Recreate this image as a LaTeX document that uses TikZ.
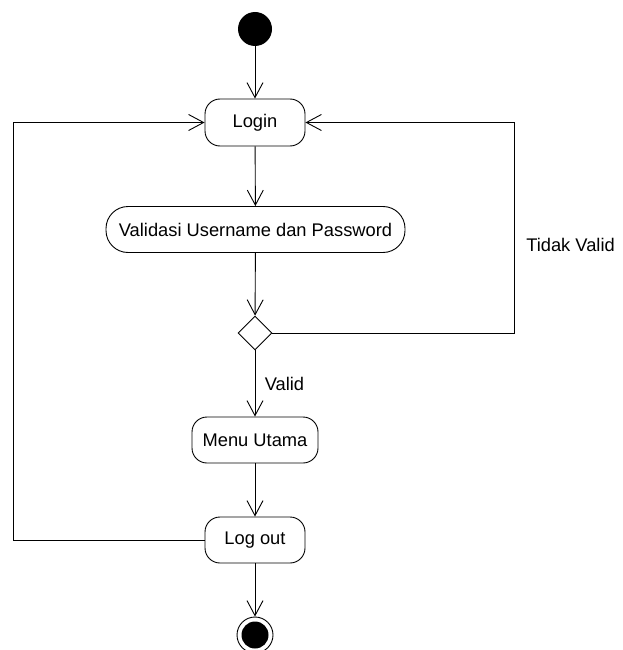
\documentclass[tikz,border=0pt]{standalone}
\usepackage{fontspec}
\setmainfont{Liberation Sans}
\usetikzlibrary{arrows.meta,shapes.geometric}
\begin{document}
\begin{tikzpicture}[x=1pt,y=-1pt,
  every node/.style={font=\fontsize{18.3}{22}\selectfont},
  act/.style={draw,line width=0.9pt,rounded corners=15pt,minimum height=46pt,inner sep=0pt,align=center},
  arr/.style={line width=0.9pt,-{Straight Barb[length=15pt,width=16pt,line width=0.9pt]}},
  ln/.style={line width=0.9pt}]
\useasboundingbox (0,0) rectangle (623,650);
\node[circle,fill=black,minimum size=34pt,inner sep=0pt] (start) at (255,29) {};
\node[act,minimum width=100pt,minimum height=47pt] (login) at (255,122.5) {Login};
\node[act,minimum width=299pt,rounded corners=22pt] (valid) at (255.5,229.5) {Validasi Username dan Password};
\node[draw,line width=0.9pt,diamond,minimum width=34pt,minimum height=34pt,inner sep=0pt] (dia) at (255,333) {};
\node[act,minimum width=126pt] (menu) at (255,440) {Menu Utama};
\node[act,minimum width=100pt] (logout) at (255,540) {Log out};
\node[circle,draw,line width=0.9pt,minimum size=36pt,inner sep=0pt] (end) at (255,635) {};
\fill (end.center) circle (13.5pt);
\coordinate (rc) at (514,122.5);
\coordinate (lc) at (13.5,122.5);
\draw[arr] (start) -- (login);
\draw[arr] (login) -- (valid);
\draw[arr] (valid) -- (dia);
\draw[arr] (dia) -- node[right=6pt,pos=0.5] (lv) {Valid} (menu);
\draw[arr] (dia.east) -| (rc) -- (login.east);
\draw[arr] (menu) -- (logout);
\draw[arr] (logout) -- (end);
\draw[arr] (logout.west) -| (lc) -- (login.west);
\node (tv) at (570.5,245) {Tidak Valid};
\end{tikzpicture}
\end{document}
